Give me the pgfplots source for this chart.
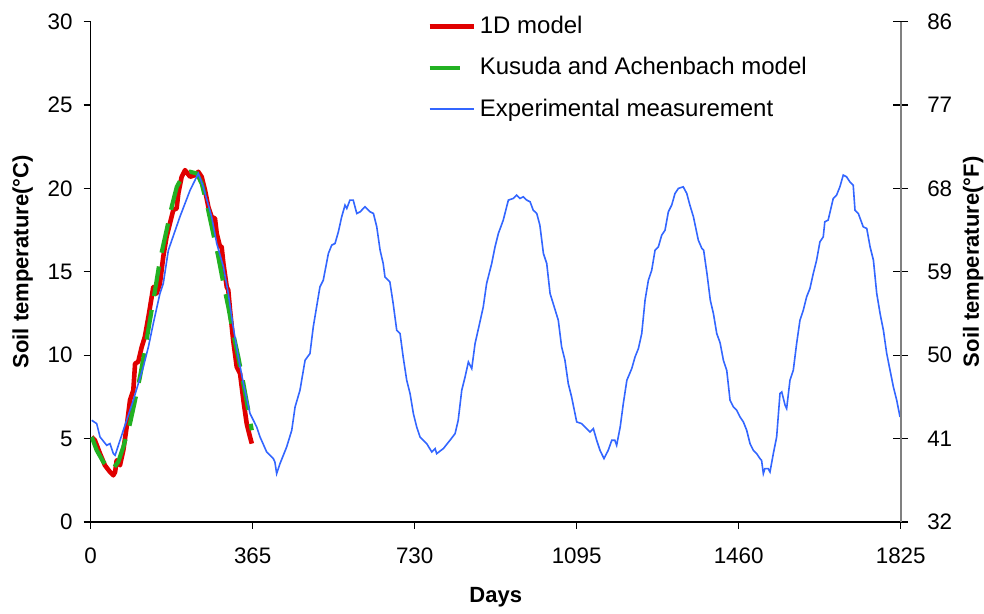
\documentclass[border=0pt]{standalone}
\usepackage{fontspec}
\setmainfont{Liberation Sans}
\usepackage{pgfplots}
\pgfplotsset{compat=1.18}

\definecolor{modelred}{RGB}{224,0,0}
\definecolor{kagreen}{RGB}{34,177,34}
\definecolor{measblue}{RGB}{51,102,255}

\pgfplotsset{
  soilbase/.style={
    scale only axis,
    width=405pt, height=250.15pt,
    xmin=0, xmax=1825,
    /pgf/number format/assume math mode=true,
    /pgf/number format/1000 sep={},
    tick label style={font=\fontsize{11.2}{13}\selectfont},
    label style={font=\fontsize{11}{13}\selectfont\bfseries},
  }
}

\begin{document}
\begin{tikzpicture}
\useasboundingbox (-45.35pt,-46pt) rectangle (446.65pt,261pt);

% left axis: degrees Celsius, carries all series
\begin{axis}[
  soilbase,
  ymin=0, ymax=30,
  axis x line*=bottom, axis y line*=left,
  xtick={0,365,730,1095,1460,1825},
  ytick={0,5,10,15,20,25,30},
  tick align=outside,
  major tick length=3.5pt,
  tick style={black, line width=0.6pt},
  axis line style={black, line width=0.6pt},
  xticklabel style={yshift=-6pt},
  yticklabel style={xshift=-2pt},
  xlabel={Days},
  ylabel={Soil temperature(°C)},
  xlabel style={at={(axis description cs:0.5,-0.15)}, anchor=center},
  ylabel style={at={(axis description cs:-0.084,0.52)}, anchor=center},
  legend style={draw=none, fill=none, at={(axis description cs:0.415,1.020)},
    anchor=north west, font=\fontsize{12}{14}\selectfont, row sep=6.5pt,
    inner sep=0pt},
  legend cell align=left,
  legend image code/.code={\draw[#1] (0pt,0pt) -- (22pt,0pt);},
]
% 1D model
\addplot[modelred, line width=2.3pt, line join=round] coordinates {
(2.3,5.1) (9.5,4.9) (21,4.1) (32,3.4) (43.5,3.0) (51,2.8) (55,3.0)
(58.5,3.7) (66,3.4) (73.5,4.3) (81,5.7) (88.5,7.3) (96,7.9) (100,9.5)
(107,9.6) (115,10.5) (122,11.1) (130,12.3) (137.5,13.5) (141,14.1)
(148.5,13.7) (156,14.3) (163.5,15.9) (171,17.1) (178.5,17.9) (186,18.7)
(193.5,18.8) (197.5,19.7) (205,20.7) (212.5,21.1) (224,20.7) (235,20.8)
(242.5,21.0) (250,20.7) (257.5,19.9) (265,18.9) (272.5,18.3) (280,18.2)
(284,17.3) (291.5,16.5) (295,16.5) (299,15.5) (306.5,14.1) (310,13.9)
(314,12.7) (321,10.9) (329,9.3) (336.5,8.9) (344,7.3) (351.5,5.9)
(359,5.1) (363,4.7)
};
\addlegendentry{1D model}
% Kusuda and Achenbach model
\addplot[kagreen, line width=2.1pt, dash pattern=on 15pt off 7pt] coordinates {
(2.3,5.1) (13.5,4.3) (28.5,3.6) (47.5,3.1) (62,3.6) (73.5,4.5) (88.5,5.9)
(100,7.3) (111,8.7) (122,10.3) (133.5,12.1) (145,13.9) (156,15.7)
(171,17.5) (182.5,18.9) (194,20.1) (208.5,20.8) (224,21.0) (239,20.9)
(250,20.3) (261.5,19.1) (276,17.3) (287.5,15.9) (299,14.3) (310,12.9)
(321,11.3) (332.5,9.9) (344,8.3) (355,6.7) (363,5.5)
};
\addlegendentry{Kusuda and Achenbach model}
% experimental measurement
\addplot[measblue, line width=0.8pt] coordinates {
(2.3,6.1) (13.5,5.9) (21,5.1) (36,4.6) (43.5,4.7) (51,4.1) (55,4.0)
(73.5,5.5) (96,7.3) (118.5,9.3) (130,10.5) (141,11.9) (156,13.7)
(163.5,14.3) (175,16.3) (201,18.3) (212.5,19.1) (224,19.9) (242.5,20.9)
(253.5,20.1) (272.5,18.3) (284,16.7) (299,15.3) (310,13.7) (321,11.7)
(332.5,9.9) (344,8.3) (359,6.5) (374,5.7) (381.5,5.1) (396.5,4.2)
(411.5,3.8) (415,3.6) (419,2.9) (426.5,3.5) (441.5,4.5) (453,5.5)
(460.5,6.9) (471.5,7.9) (483,9.7) (494,10.1) (501.5,11.7) (509,12.9)
(516.5,14.1) (524,14.5) (535.5,16.1) (543,16.6) (550.5,16.7) (558,17.4)
(565.5,18.3) (573,19.0) (577,18.8) (584,19.3) (591.5,19.3) (599.5,18.5)
(607,18.6) (618,18.9) (629.5,18.6) (637,18.5) (644.5,17.7) (652,16.3)
(659,15.5) (663,14.7) (674,14.4) (681.5,13.1) (689.5,11.5) (697,11.3)
(704,9.9) (712,8.5) (719.5,7.7) (727,6.5) (734.5,5.7) (742,5.1)
(757,4.7) (768.5,4.2) (776,4.4) (779.5,4.1) (794.5,4.4) (809.5,4.9)
(821,5.3) (828,6.1) (836,7.9) (843.5,8.7) (851,9.6) (858.5,9.2)
(866,10.7) (877,12.0) (884.5,12.9) (892,14.3) (903.5,15.5) (911,16.5)
(918.5,17.3) (929.5,18.1) (941,19.3) (952,19.4) (959.5,19.6) (967,19.4)
(974.5,19.5) (982.5,19.3) (990,19.2) (997,18.7) (1005,18.5) (1012,17.8)
(1020,16.1) (1027.5,15.5) (1035,13.7) (1042,13.1) (1053.5,12.1)
(1061,10.5) (1068.5,9.7) (1076,8.3) (1083.5,7.5) (1095,6.0) (1106,5.9)
(1117.5,5.6) (1125,5.4) (1132.5,5.6) (1140,4.9) (1147.5,4.3)
(1156.5,3.8) (1166,4.3) (1174,4.9) (1181,4.9) (1185,4.6) (1193,5.7)
(1200,7.1) (1208,8.5) (1219,9.2) (1226.5,9.9) (1234,10.4) (1241.5,11.3)
(1249,13.3) (1256.5,14.5) (1264,15.1) (1271.5,16.3) (1279,16.5)
(1286.5,17.2) (1294,17.5) (1301.5,18.6) (1309,19.0) (1316.5,19.7)
(1324,20.0) (1335,20.1) (1343,19.7) (1350,19.0) (1358,18.3) (1369,16.9)
(1377,16.4) (1381,16.3) (1388.5,14.9) (1396,13.3) (1403,12.5)
(1410.5,11.3) (1418,10.75) (1425.5,9.7) (1433,9.1) (1440.5,7.3)
(1448,6.9) (1455.5,6.7) (1463,6.3) (1470.5,6.0) (1478,5.5) (1485.5,4.7)
(1493,4.3) (1500.5,4.1) (1508,3.8) (1511.5,3.7) (1515.5,2.9) (1519,3.2)
(1526.5,3.2) (1530.5,3.0) (1538,4.1) (1545.5,5.1) (1553,7.7) (1557,7.8)
(1564.5,7.0) (1568,6.8) (1575.5,8.5) (1583,9.1) (1590.5,10.7)
(1598,12.1) (1605.5,12.7) (1613,13.5) (1620.5,14.0) (1628,14.9)
(1635.5,15.7) (1643,16.8) (1650.5,17.1) (1654,18.0) (1661.5,18.1)
(1673,19.4) (1680.5,19.6) (1688,20.1) (1695.5,20.8) (1703,20.7)
(1710.5,20.4) (1718,20.2) (1722,18.7) (1729.5,18.5) (1740.5,17.7)
(1748.5,17.6) (1756,16.5) (1763.5,15.7) (1771,13.7) (1778.5,12.5)
(1786,11.5) (1793.5,10.1) (1801,9.1) (1808.5,8.1) (1816,7.3) (1823.5,6.3)
};
\addlegendentry{Experimental measurement}
\end{axis}

% right axis: degrees Fahrenheit
\begin{axis}[
  soilbase,
  ymin=32, ymax=86,
  axis x line=none, axis y line*=right,
  ytick={32,41,50,59,68,77,86},
  tick align=center,
  major tick length=7.5pt,
  tick style={black, line width=0.6pt},
  axis line style={gray, line width=0.8pt},
  yticklabel style={xshift=6pt},
  ylabel={Soil temperature(°F)},
  ylabel style={at={(axis description cs:1.0895,0.52)}, anchor=center},
]
\end{axis}
\end{tikzpicture}
\end{document}
